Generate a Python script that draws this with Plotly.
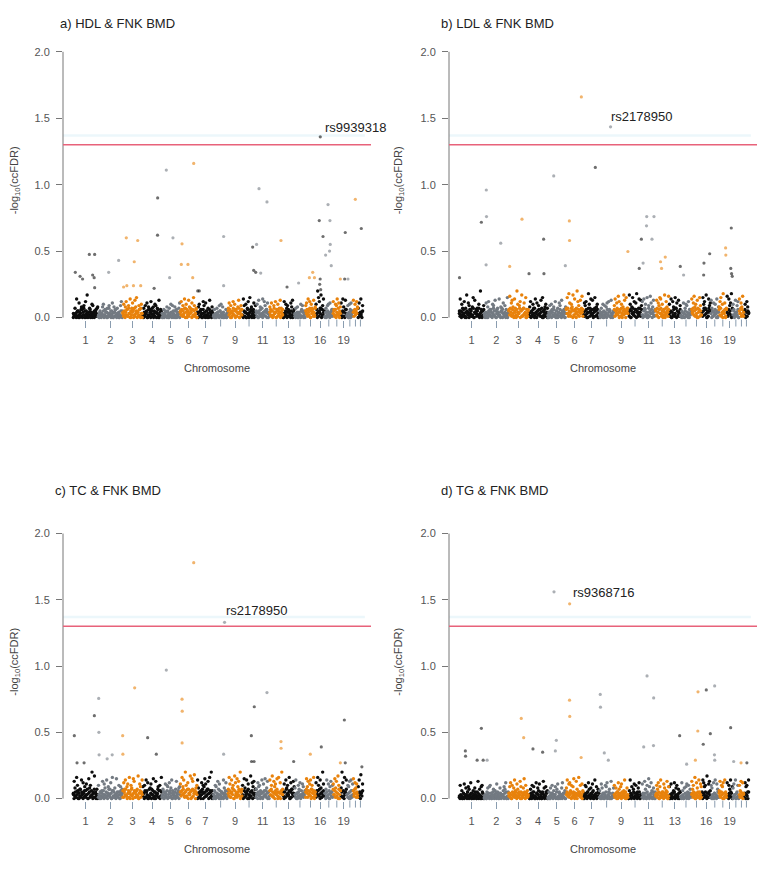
import plotly.graph_objects as go

# ---------------- data ----------------
CHROM_LENGTHS_MB = [249, 243, 198, 191, 181, 171, 159, 146, 141, 136, 135,
                    134, 115, 107, 102, 90, 81, 78, 59, 63, 48, 51]
CHROM_TICK_LABELS = ["1", "2", "3", "4", "5", "6", "7", "", "9", "", "11",
                     "", "13", "", "", "16", "", "", "19", "", "", ""]
Y_TICKS = [0.0, 0.5, 1.0, 1.5, 2.0]
Y_TICK_LABELS = ["0.0", "0.5", "1.0", "1.5", "2.0"]
THRESHOLD = 1.3
FAINT_LINE = 1.37

PANEL_TITLES = ["a) HDL & FNK BMD", "b) LDL & FNK BMD",
                "c) TC & FNK BMD", "d) TG & FNK BMD"]

# dense SNP band, strings per chromosome; each char = -log10(ccFDR) in hundredths (base 36)
BASE_A = ["021304152036104725031042613024015372", "10420315026140371205304162031402510",
          "3150426173052460713504261730", "204135026140372051403620415",
          "01302410520314023051204130", "426153704625137406251370",
          "30415203614025130642051", "102301420513024012031", "52604137250614370526",
          "2051403620415036024", "3140526130425160341", "4615027340615240736",
          "0315204613052041", "102403120514023", "536142705361427", "2604153706241",
          "140251304261", "35160427153", "20514063", "130420514", "4162537", "0314205"]
BAND_A = ["3172e50b4186290c5h31704a9253618", "205318a2640719352b0846173029c5",
          "4a28c6193e07b52d8f41960a3", "17394b0826c5183a9470d261",
          "30625184073a1952806437b", "5c291e7a04d836b1f9260", "48a1630c92b5071d4283",
          "260374195a38021604", "7b3905c2a6148d0392", "1e94a07c3f6825b19",
          "5a0d3817e2c946b03", "82b5194c06a37d152", "0c3a79152b8d46", "3718042a69150",
          "9b2e6c0a74d18", "a3kfc7h29e5", "0749a2b156", "c62a9e3b08", "b4e81d6",
          "290a6b35", "d5a3c8", "7b2e49"]

BASE_B = ["315042631705240635127043615270341526", "20413052614037215063412057031426103",
          "5274163057261437051627340615", "314052637140526314705261340",
          "20315042613052041630521403", "637152476051637426153746",
          "41526307415263047152630", "203140521306241503214", "61537240617352640573",
          "4160537241605372416", "2051634027153604215", "5274063715264073516",
          "3150426137052416", "204130521403625", "647251630746152", "4157263051746",
          "305142630514", "62714053617", "41635207", "250314260", "5371624", "2604153"]
BAND_B = ["5e2a71c04h3b92618f0d4372a1k6059", "31b08c4261a95d0372e1846b2903f5",
          "6g2bd81e40ka39c5h17b2f036", "28c41a70e3b5926d1f048a37",
          "0493a6182c5073b91d42608", "7f3ib1a8h2e50kc94d6g1", "2b9c04ia7e3d16f58a02",
          "5173a0948b2c61d305", "9e2b6gc41a08hd3f57", "3ha08f2c6bi41e7d9",
          "c2e7a1f094gb38d56", "6d1b9fe3a05h2c84g", "a4e0c82f7b1d39", "150b37a92c064",
          "e3bg8a1d06f92", "2fac7h04e9b", "d71b5a3e08", "8cf2ai4b06", "g3e9bi1",
          "a62d49c0", "e3b8g1", "5a1c84"]

BASE_C = ["402513604271530462137045126304715320", "13052416031520473140625130421530624",
          "6153720461537204615372046153", "240615302714036152043716025",
          "13502416035142063150241603", "526374156270435617246053",
          "04152637041526370415263", "315024130625140326103", "72614537062415376052",
          "3061524073152604317", "1405236140523614052", "6372514063725140637",
          "2051734260517342", "310425130624135", "574163520741635", "1536270415362",
          "402513604251", "73615240736", "25160437", "314052613", "6274153", "3150426"]
BAND_C = ["3d81ga5072e4c196b30f8a2k51h4073", "a2506d3b81e4927c0g6183f52a0947",
          "1c7e29b4g0a83fd5162h0b94e", "94a1e6c028b73f05d2491a6g",
          "2705b3a91c68e04217d3589", "b5g9e2ka1c73h0fd6i48a", "e8130c5a9fb27d4g6k02",
          "06a92d7b3051e84c16", "4gb1e8a0hc3f9d2k57", "a1f83e6b02h5c9d47",
          "73c9a04e1b6f28d50", "e6ah2d9b4f0g1c5k3", "5b1e8a3g0c74d9", "8e40a7c13b926",
          "1f9d3be7a5g02", "c6ga3e81kb4", "47e1b09d5a", "b3f8d1ha06", "8kc2g5e",
          "3a9d0e6b", "f4c8b1", "9e3i5b"]

BASE_D = ["103201402130520314021035102403120510", "02103140210351024013201403120415020",
          "2413052413502413052413502413", "102403150214031052041302510",
          "01203140213051024013021405", "352413504253142035241305",
          "20314052130415023140251", "102031402510320410231", "31425031420531425031",
          "0214031502140315021", "1302410531024105310", "2413502413502413502",
          "0312041503120415", "102301420310241", "341520431524031", "2043152041531",
          "103204130251", "42153041253", "13042510", "021304120", "3152403", "1403205"]
BAND_D = ["2a1604b3815972c04618305d2709a41", "1305829a4017362b5048213697c015",
          "49c0a38e61b725d9048f3a162", "3071a5920c486b1305d82946",
          "15084a263917b05238c4160", "8e2bc6a19f04d73g5a2b6", "04a925c7183b60e29174",
          "61b8403a9c2570d148", "a2805c739b146e0283", "06e3917b4a258c031",
          "b41d70a2f93c61805", "3a7c09e152b846d09", "90b416c28a3705", "2c60819b5a473",
          "d7a3g0c81e5b9", "5ec9a2h1bd6", "a80c4e2b71", "6d2a9c0e41", "c1a7e49",
          "8b3e05a2", "a6d1c4", "3c9a5e"]

# sparse higher SNPs: (chromosome, position in Mb, -log10(ccFDR))
OUTLIERS_A = [(16, 46, 1.36), (5, 45, 1.11), (6, 136, 1.16), (4, 150, 0.90), (11, 31, 0.97),
              (11, 110, 0.87), (21, 23, 0.89), (17, 33, 0.85), (22, 34, 0.67), (16, 36, 0.73),
              (17, 52, 0.73), (16, 73, 0.61), (4, 149, 0.62), (3, 37, 0.60), (3, 150, 0.58),
              (5, 111, 0.60), (6, 20, 0.555), (8, 103, 0.61), (12, 114, 0.58), (19, 45, 0.64),
              (10, 104, 0.53), (11, 7, 0.55), (17, 55, 0.55), (17, 48, 0.50), (17, 9, 0.47),
              (17, 65, 0.39), (1, 162, 0.475), (1, 215, 0.475), (1, 23, 0.34), (1, 70, 0.31),
              (1, 95, 0.29), (1, 195, 0.32), (1, 210, 0.30), (1, 215, 0.225), (2, 105, 0.34),
              (2, 204, 0.43), (3, 116, 0.42), (6, 13, 0.40), (6, 79, 0.40), (5, 78, 0.30),
              (6, 126, 0.30), (7, 5, 0.20), (7, 20, 0.20), (10, 114, 0.355), (10, 134, 0.34),
              (11, 48, 0.335), (8, 103, 0.24), (13, 40, 0.23), (15, 73, 0.34), (15, 40, 0.30),
              (15, 90, 0.30), (16, 45, 0.29), (18, 74, 0.29), (19, 39, 0.29), (20, 13, 0.29),
              (14, 40, 0.26), (3, 42, 0.24), (3, 108, 0.24), (3, 180, 0.24), (3, 10, 0.23),
              (4, 115, 0.22), (16, 40, 0.25), (16, 50, 0.21)]
OUTLIERS_B = [(6, 152, 1.66), (8, 112, 1.435), (7, 120, 1.13), (5, 59, 1.066), (2, 22, 0.96),
              (1, 222, 0.717), (2, 24, 0.76), (3, 133, 0.74), (6, 33, 0.727), (6, 35, 0.58),
              (11, 48, 0.76), (11, 120, 0.76), (11, 46, 0.69), (10, 131, 0.59), (11, 100, 0.59),
              (4, 150, 0.59), (2, 165, 0.56), (19, 45, 0.674), (9, 138, 0.497), (18, 67, 0.524),
              (18, 69, 0.47), (16, 80, 0.48), (12, 97, 0.455), (16, 23, 0.41), (12, 50, 0.42),
              (12, 60, 0.37), (13, 112, 0.385), (11, 12, 0.41), (10, 110, 0.37), (2, 20, 0.397),
              (3, 11, 0.385), (5, 174, 0.39), (19, 40, 0.37), (19, 48, 0.33), (19, 55, 0.31),
              (1, 5, 0.30), (4, 5, 0.33), (4, 153, 0.33), (14, 30, 0.32), (16, 20, 0.32)]
OUTLIERS_C = [(6, 136, 1.78), (8, 112, 1.33), (5, 45, 0.97), (3, 120, 0.836), (11, 110, 0.80),
              (1, 212, 0.626), (2, 6, 0.756), (2, 8, 0.50), (6, 20, 0.75), (6, 22, 0.66),
              (6, 21, 0.42), (10, 120, 0.693), (10, 91, 0.475), (19, 36, 0.593), (1, 13, 0.475),
              (3, 1, 0.475), (4, 51, 0.46), (12, 114, 0.43), (12, 115, 0.38), (16, 56, 0.39),
              (4, 137, 0.335), (8, 103, 0.335), (15, 49, 0.335), (2, 10, 0.33), (2, 90, 0.30),
              (2, 140, 0.33), (3, 3, 0.335), (13, 106, 0.28), (10, 118, 0.28), (10, 93, 0.28),
              (18, 74, 0.27), (19, 45, 0.27), (22, 40, 0.24), (1, 40, 0.27), (1, 110, 0.27)]
OUTLIERS_D = [(5, 62, 1.56), (6, 36, 1.47), (11, 51, 0.926), (11, 117, 0.76), (17, 39, 0.85),
              (16, 46, 0.82), (15, 66, 0.806), (8, 10, 0.786), (8, 12, 0.69), (6, 35, 0.743),
              (6, 37, 0.62), (3, 126, 0.605), (3, 150, 0.46), (1, 222, 0.53), (19, 39, 0.535),
              (15, 64, 0.51), (16, 86, 0.49), (13, 106, 0.475), (16, 16, 0.41), (5, 75, 0.36),
              (4, 44, 0.375), (4, 140, 0.35), (5, 85, 0.44), (11, 18, 0.39), (11, 115, 0.40),
              (1, 63, 0.36), (1, 65, 0.32), (1, 180, 0.29), (1, 240, 0.29), (2, 30, 0.29),
              (8, 50, 0.345), (8, 90, 0.29), (17, 37, 0.33), (17, 40, 0.29), (20, 10, 0.28),
              (21, 20, 0.27), (22, 30, 0.27), (15, 40, 0.29), (14, 60, 0.26), (6, 150, 0.31)]

LEADS = [("rs9939318", 16, 46, 1.36), ("rs2178950", 8, 112, 1.435),
         ("rs2178950", 8, 112, 1.33), ("rs9368716", 6, 36, 1.47)]

BASES = [BASE_A, BASE_B, BASE_C, BASE_D]
BANDS = [BAND_A, BAND_B, BAND_C, BAND_D]
OUTLIERS = [OUTLIERS_A, OUTLIERS_B, OUTLIERS_C, OUTLIERS_D]

# ---------------- styling / layout ----------------
PAGE_OFF = 8                      # default body margin of the html page
W, H = 776 - 2 * PAGE_OFF, 874 - 2 * PAGE_OFF
FONT = "Liberation Sans, Arial, sans-serif"
CHR_COLORS = ["#0d0d0d", "#737a82", "#e8820c"]
TICK_COLOR = "#8a9db0"
# page-pixel geometry of each panel: left, right, y(0), y(2.0)
PANELS = [(63, 371, 319.0, 52.0), (449, 757, 319.0, 52.0),
          (63, 371, 802.3, 536.0), (449, 757, 802.3, 536.0)]
TITLE_POS = [(58, 24), (439, 24), (53, 493), (439, 493)]
LEAD_SHIFT = [(3, 9), (-2, 10), (-1, 12), (1, 11)]
TICKLEN = 7


def fx(px):
    return (px - PAGE_OFF) / W


def fy(py):
    return 1 - (py - PAGE_OFF) / H


starts = []
acc = 0
for L in CHROM_LENGTHS_MB:
    starts.append(acc)
    acc += L
total = acc
centers = [s + L / 2 for s, L in zip(starts, CHROM_LENGTHS_MB)]

DATA_LEFT_PAD = 10
DATA_RIGHT_PAD = 8
Y_LO, Y_HI = -0.015, 2.08

fig = go.Figure()
annotations = []
shapes = []

for p in range(4):
    left, right, y0px, y2px = PANELS[p]
    xs = "" if p == 0 else str(p + 1)
    xname, yname = "x" + xs, "y" + xs
    xaxis_key, yaxis_key = "xaxis" + xs, "yaxis" + xs

    pxmb = (right - left - DATA_LEFT_PAD - DATA_RIGHT_PAD) / total
    xr = [-DATA_LEFT_PAD / pxmb, total + DATA_RIGHT_PAD / pxmb]
    scale = (y0px - y2px) / 2.0
    bot_px = y0px - Y_LO * scale
    top_px = y2px - (Y_HI - 2.0) * scale
    dom_h = bot_px - top_px

    for ci in range(3):
        bx, by, ox, oy = [], [], [], []
        for c in range(22):
            if c % 3 != ci:
                continue
            for s in (BASES[p][c], BANDS[p][c]):
                n = len(s)
                for k, ch in enumerate(s):
                    bx.append(starts[c] + (k + 0.5) / n * CHROM_LENGTHS_MB[c])
                    by.append(int(ch, 36) / 100.0)
        for (chrom, pos, val) in OUTLIERS[p]:
            if (chrom - 1) % 3 == ci:
                ox.append(starts[chrom - 1] + pos)
                oy.append(val)
        fig.add_trace(go.Scatter(x=bx, y=by, mode="markers", xaxis=xname, yaxis=yname,
                                 marker=dict(size=3.4, color=CHR_COLORS[ci], line=dict(width=0)),
                                 showlegend=False, hoverinfo="skip", cliponaxis=False))
        fig.add_trace(go.Scatter(x=ox, y=oy, mode="markers", xaxis=xname, yaxis=yname,
                                 marker=dict(size=3.2, color=CHR_COLORS[ci], opacity=0.6,
                                             line=dict(width=0)),
                                 showlegend=False, hoverinfo="skip", cliponaxis=False))

    lab_vals = [centers[i] for i in range(22) if CHROM_TICK_LABELS[i]]
    lab_text = [CHROM_TICK_LABELS[i] for i in range(22) if CHROM_TICK_LABELS[i]]
    fig.update_layout(**{
        xaxis_key: dict(domain=[fx(left), fx(right)], range=xr, anchor=yname,
                        tickmode="array", tickvals=lab_vals, ticktext=lab_text,
                        ticks="outside", ticklen=TICKLEN, tickwidth=1, tickcolor=TICK_COLOR,
                        showline=False, showgrid=False, zeroline=False,
                        tickfont=dict(size=11, color="#555555", family=FONT),
                        ticklabelstandoff=3,
                        title=dict(text="Chromosome", standoff=19,
                                   font=dict(size=11, color="#444444", family=FONT))),
        yaxis_key: dict(domain=[fy(bot_px), fy(top_px)], range=[Y_LO, Y_HI],
                        anchor=xname, tickmode="array", tickvals=Y_TICKS,
                        ticktext=Y_TICK_LABELS, ticks="outside", ticklen=6, tickwidth=1,
                        tickcolor="#777777", showline=False, showgrid=False, zeroline=False,
                        tickfont=dict(size=11, color="#555555", family=FONT),
                        ticklabelstandoff=4,
                        title=dict(text="-log<sub>10</sub>(ccFDR)", standoff=15,
                                   font=dict(size=11, color="#444444", family=FONT))),
    })

    for i in range(22):
        if not CHROM_TICK_LABELS[i]:
            shapes.append(dict(type="line", xref=xname, yref=yname + " domain",
                               x0=centers[i], x1=centers[i], y0=0, y1=-TICKLEN / dom_h,
                               line=dict(color=TICK_COLOR, width=1)))
    shapes.append(dict(type="line", xref=xname + " domain", yref=yname, x0=0, x1=0,
                       y0=0, y1=2.0, line=dict(color="#777777", width=1)))
    shapes.append(dict(type="line", xref=xname + " domain", yref=yname, x0=0, x1=0.98,
                       y0=FAINT_LINE, y1=FAINT_LINE, line=dict(color="#ecf7fb", width=2.5),
                       layer="below"))
    shapes.append(dict(type="line", xref=xname + " domain", yref=yname, x0=0, x1=1,
                       y0=THRESHOLD, y1=THRESHOLD, line=dict(color="#e8627a", width=1.5)))

    tx, ty = TITLE_POS[p]
    annotations.append(dict(text=PANEL_TITLES[p], xref="paper", yref="paper",
                            x=fx(tx), y=fy(ty), xanchor="left", yanchor="middle",
                            showarrow=False, font=dict(size=13, color="#222222", family=FONT)))
    name, chrom, pos, val = LEADS[p]
    dx, dy = LEAD_SHIFT[p]
    annotations.append(dict(text=name, xref=xname, yref=yname,
                            x=starts[chrom - 1] + pos, y=val, xanchor="left", yanchor="middle",
                            xshift=dx, yshift=dy, showarrow=False,
                            font=dict(size=13, color="#222222", family=FONT)))

fig.update_layout(width=W, height=H, margin=dict(l=0, r=0, t=0, b=0),
                  paper_bgcolor="white", plot_bgcolor="white",
                  annotations=annotations, shapes=shapes, showlegend=False)

fig.write_html("out.html")
